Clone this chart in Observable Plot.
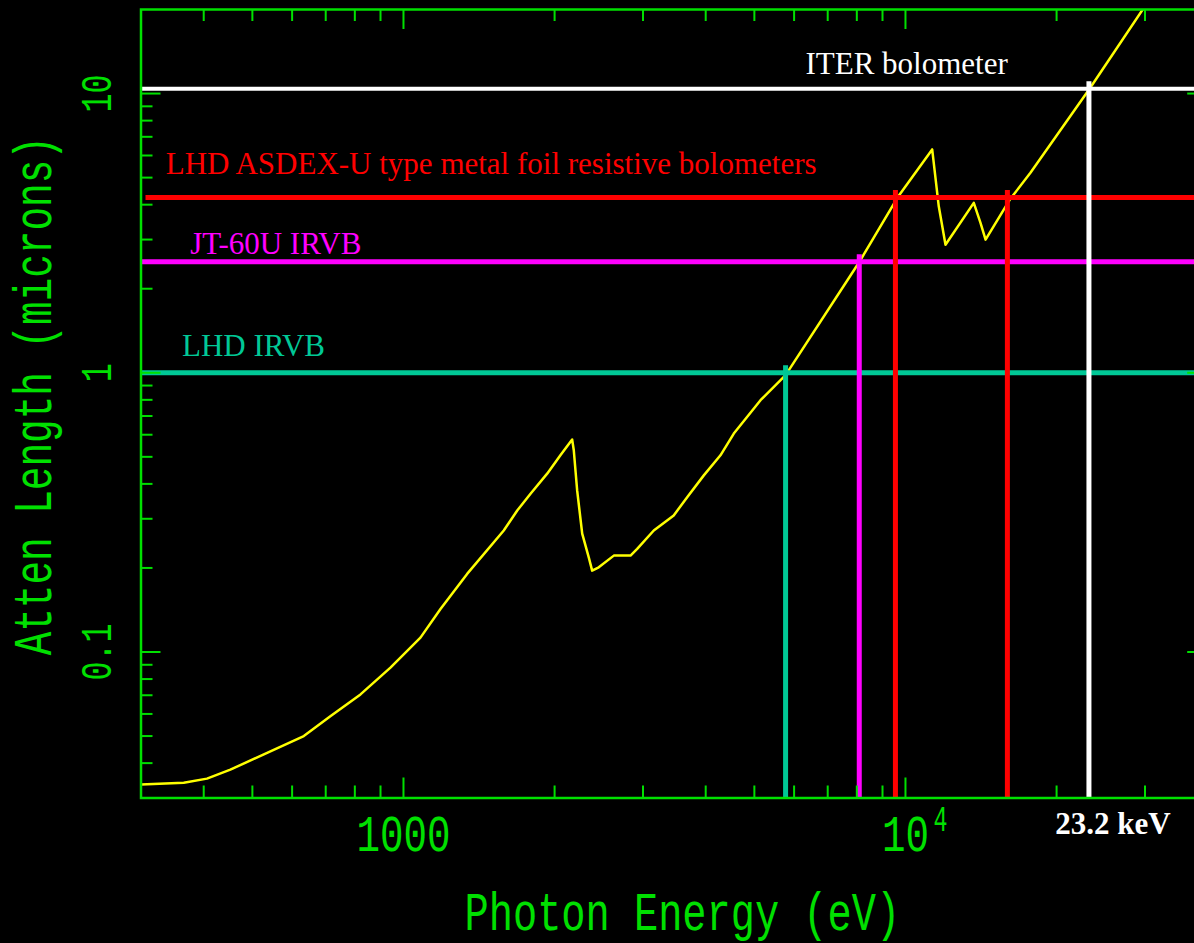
<!DOCTYPE html>
<html><head><meta charset="utf-8">
<script src="https://cdn.jsdelivr.net/npm/d3@7"></script>
<script src="https://cdn.jsdelivr.net/npm/@observablehq/plot@0.6"></script>
<style>
html,body{margin:0;padding:0;background:#000;overflow:hidden;}
#chart svg{max-width:none !important;}
</style></head><body><div id="chart"></div>
<script>
// ---------- DATA ----------
// Gold attenuation length vs photon energy
const energy = [300, 365, 406, 452, 527, 633, 715, 821, 942, 1081, 1185, 1339, 1584, 1685, 1791, 1933, 2054, 2168, 2184, 2218, 2270, 2340, 2376, 2449, 2624, 2833, 2921, 3152, 3454, 3674, 3965, 4280, 4550, 5143, 5770, 8097, 9641, 11304, 11650, 12016, 13680, 14108, 14440, 16140, 17740, 23360, 29800];
const atten = [0.0335, 0.0340, 0.0352, 0.0379, 0.0430, 0.0500, 0.0589, 0.0705, 0.0879, 0.1126, 0.1425, 0.1904, 0.2723, 0.3212, 0.3688, 0.4352, 0.5064, 0.5765, 0.5278, 0.3791, 0.2656, 0.2178, 0.1956, 0.2010, 0.2214, 0.2214, 0.2340, 0.2723, 0.3083, 0.3586, 0.4291, 0.5064, 0.6058, 0.7978, 0.981, 2.498, 4.242, 6.308, 3.947, 2.875, 4.059, 3.440, 2.997, 4.172, 5.202, 10.51, 20.2];

// Detectors: absorber thickness (microns)
const detectorNames = ["ITER bolometer", "LHD ASDEX-U type metal foil resistive bolometers", "JT-60U IRVB", "LHD IRVB"];
const detectorThickness = [10.4, 4.24, 2.5, 1.0];
// Energies where the curve reaches each thickness (eV) and which detector
const crossEnergy = [23200, 9550, 15960, 8090, 5770];
const crossDetector = [0, 1, 1, 2, 3];
const energyNote = ["23.2 keV"];
const energyNoteAt = [23200];

// Axis ticks
const xMajorTicks = [1000, 10000];
const xMajorLabels = ["1000", "10"];
const xSuperscript = ["", "4"];
const xMinorTicks = [400, 500, 600, 700, 800, 900, 2000, 3000, 4000, 5000, 6000, 7000, 8000, 9000, 20000, 30000];
const yMajorTicks = [0.1, 1, 10];
const yMajorLabels = ["0.1", "1", "10"];
const yMinorTicks = [0.04, 0.05, 0.06, 0.07, 0.08, 0.09, 0.2, 0.3, 0.4, 0.5, 0.6, 0.7, 0.8, 0.9, 2, 3, 4, 5, 6, 7, 8, 9];
const xTitle = "Photon Energy (eV)";
const yTitle = "Atten Length (microns)";

// ---------- STYLE / LAYOUT ----------
const GREEN = "#00e000";
const MONO = "Liberation Mono, Courier New, monospace";
const SERIF = "Liberation Serif, Times New Roman, serif";
const detectorColors = ["#ffffff", "#ff0000", "#ff00ff", "#00c896"];
const detectorWidths = [4, 5, 5, 5];
const labelAtEnergy = [6322, 336, 376, 362];
const labelDy = [-25, -34, -18, -27];

const W = 1216, H = 943, ML = 140.5, MR = 8.8, MT = 9, MB = 145.5;
const plotW = W - ML - MR, plotH = H - MT - MB;
const xDomain = [300, 40000], yDomain = [0.03, 20];

const curve = energy.map((E, i) => ({E, L: atten[i]}));
const xLabelMap = new Map(xMajorTicks.map((v, i) => [v, xMajorLabels[i]]));
const yLabelMap = new Map(yMajorTicks.map((v, i) => [v, yMajorLabels[i]]));
const sup = xMajorTicks.map((v, i) => ({v, t: xSuperscript[i]})).filter(d => d.t);

const marks = [];
marks.push(Plot.line(curve, {x: "E", y: "L", stroke: "#ffff00", strokeWidth: 2.5, clip: true}));

// horizontal thickness lines + labels
detectorNames.forEach((name, i) => {
  marks.push(Plot.ruleY([detectorThickness[i]], {stroke: detectorColors[i], strokeWidth: detectorWidths[i], insetLeft: i === 1 ? 5 : 0}));
  marks.push(Plot.text([{E: labelAtEnergy[i], L: detectorThickness[i], name}], {
    x: "E", y: "L", text: "name", textAnchor: "start", lineAnchor: "middle", dy: labelDy[i],
    fill: detectorColors[i], fontSize: 31, fontFamily: SERIF
  }));
});
// vertical drop lines
crossEnergy.forEach((E, i) => {
  const d = crossDetector[i];
  marks.push(Plot.ruleX([{E, L: detectorThickness[d]}], {x: "E", y1: yDomain[0], y2: "L", stroke: detectorColors[d], strokeWidth: 5, insetBottom: 7}));
});
// energy note
marks.push(Plot.text(energyNoteAt.map((E, i) => ({E, t: energyNote[i]})), {
  x: "E", text: "t", frameAnchor: "bottom", dy: 26.5, dx: 24, lineAnchor: "middle",
  fill: "#ffffff", fontSize: 31, fontWeight: "bold", fontFamily: SERIF
}));

// frame and inward ticks
marks.push(Plot.frame({stroke: GREEN, strokeWidth: 2.5}));
marks.push(Plot.tickX(xMinorTicks, {x: d => d, stroke: GREEN, strokeWidth: 2, insetTop: plotH - 12}));
marks.push(Plot.tickX(xMajorTicks, {x: d => d, stroke: GREEN, strokeWidth: 2, insetTop: plotH - 20}));
marks.push(Plot.tickX(xMinorTicks, {x: d => d, stroke: GREEN, strokeWidth: 2, insetBottom: plotH - 12}));
marks.push(Plot.tickX(xMajorTicks, {x: d => d, stroke: GREEN, strokeWidth: 2, insetBottom: plotH - 20}));
marks.push(Plot.tickY(yMinorTicks, {y: d => d, stroke: GREEN, strokeWidth: 2, insetRight: plotW - 12}));
marks.push(Plot.tickY(yMajorTicks, {y: d => d, stroke: GREEN, strokeWidth: 2, insetRight: plotW - 20}));
marks.push(Plot.tickY(yMinorTicks, {y: d => d, stroke: GREEN, strokeWidth: 2, insetLeft: plotW - 12}));
marks.push(Plot.tickY(yMajorTicks, {y: d => d, stroke: GREEN, strokeWidth: 2, insetLeft: plotW - 20}));

// axis labels
marks.push(Plot.axisX({ticks: xMajorTicks, tickFormat: d => xLabelMap.get(d), tickSize: 0, tickPadding: 16, label: null,
  color: GREEN, fontSize: 52, fontFamily: MONO}));
marks.push(Plot.text(sup, {x: "v", text: "t", frameAnchor: "bottom", dy: 32.5, dx: 35, lineAnchor: "bottom",
  fill: GREEN, fontSize: 36, fontFamily: MONO}));
marks.push(Plot.axisY({ticks: yMajorTicks, tickFormat: d => yLabelMap.get(d), tickSize: 0, tickRotate: -90, tickPadding: 30.5, label: null,
  color: GREEN, fontSize: 44, fontFamily: MONO}));
marks.push(Plot.text([xTitle], {frameAnchor: "bottom", dy: 115, dx: 8, lineAnchor: "middle", textAnchor: "middle",
  fill: GREEN, fontSize: 54, fontFamily: MONO}));
marks.push(Plot.text([yTitle], {frameAnchor: "left", dx: -107, dy: -8, rotate: -90, lineAnchor: "middle", textAnchor: "middle",
  fill: GREEN, fontSize: 54, fontFamily: MONO}));

const chart = Plot.plot({
  width: W, height: H, marginLeft: ML, marginRight: MR, marginTop: MT, marginBottom: MB,
  style: {background: "#000", color: GREEN},
  x: {type: "log", domain: xDomain, label: null},
  y: {type: "log", domain: yDomain, label: null},
  marks
});
chart.style.maxWidth = "none";
chart.style.width = W + "px";
chart.style.height = H + "px";

function setLen(t, len) {
  t.setAttribute("textLength", len);
  t.setAttribute("lengthAdjust", "spacingAndGlyphs");
}
chart.querySelectorAll('g[aria-label="x-axis tick label"] text').forEach(t => setLen(t, t.textContent.length * 23.5));
chart.querySelectorAll('g[aria-label="y-axis tick label"] text').forEach(t => setLen(t, t.textContent.length * 19));
chart.querySelectorAll("text").forEach(t => {
  const s = t.textContent;
  if (s === xTitle) setLen(t, s.length * 24.2);
  else if (s === yTitle) setLen(t, s.length * 23.6);
  else if (xSuperscript.includes(s) && s !== "" && !t.closest('g[aria-label$="tick label"]')) setLen(t, 14);
});
document.getElementById("chart").appendChild(chart);
</script></body></html>
